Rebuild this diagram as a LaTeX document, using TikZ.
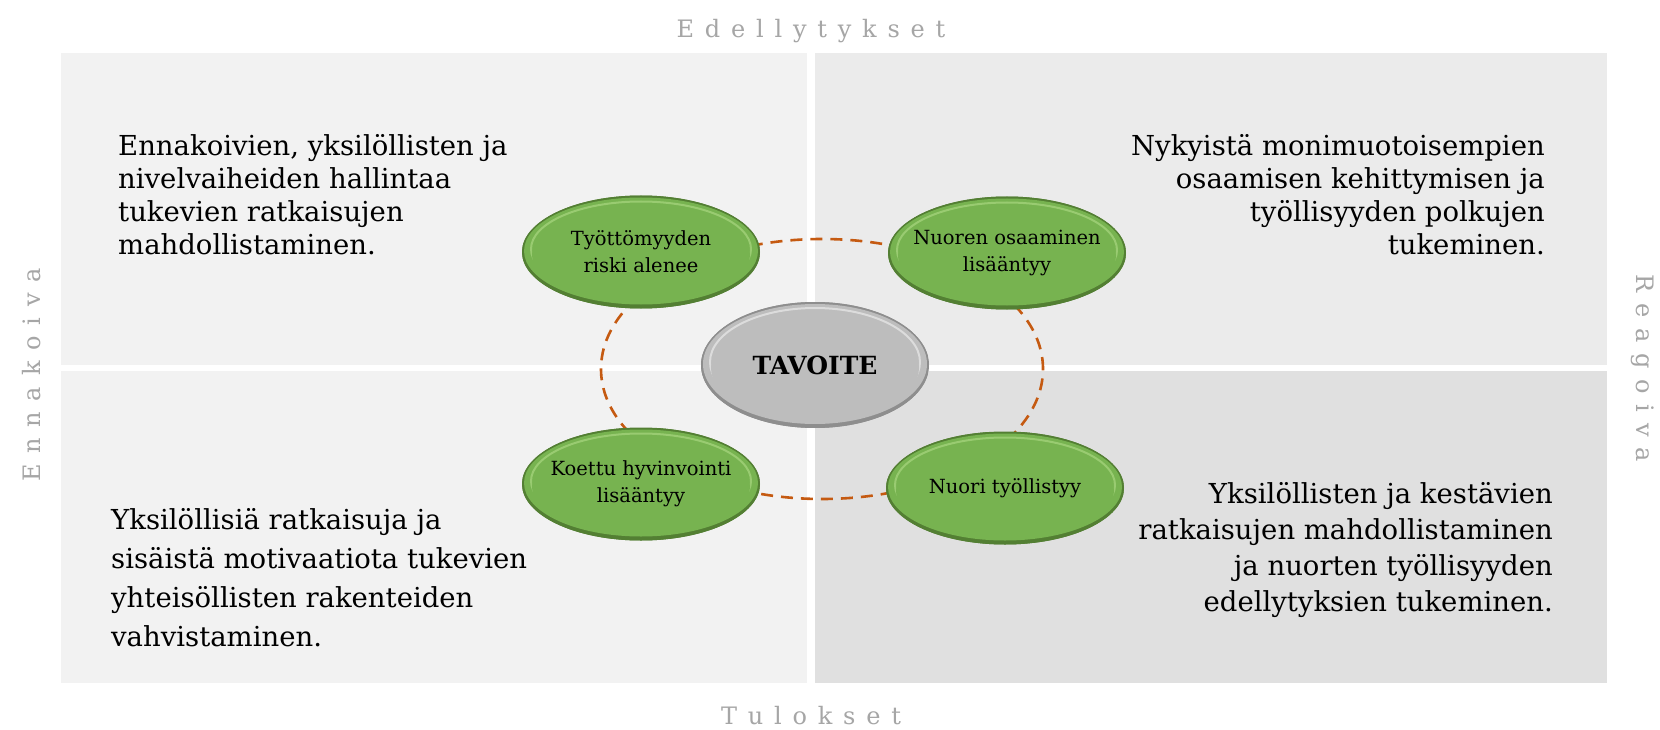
\documentclass[tikz,border=0pt]{standalone}
\usepackage{fontspec}
\setmainfont{DejaVu Serif}
\usetikzlibrary{shapes.geometric,calc,positioning}

\definecolor{leafmid}{HTML}{77B350}
\definecolor{leaflight}{HTML}{A2D27A}
\definecolor{leafdark}{HTML}{537F33}
\definecolor{stonemid}{HTML}{BDBDBD}
\definecolor{stonelight}{HTML}{E4E4E4}
\definecolor{stonedark}{HTML}{8E8E8E}
\definecolor{cyclecolor}{HTML}{C55A11}
\definecolor{axiscolor}{HTML}{A6A6A6}

% bevelled fill for the ellipses: rx, ry, dark, mid, light
\newcommand\bevel[5]{%
  \fill[#3] (path picture bounding box.south west) rectangle (path picture bounding box.north east);
  \fill[#4] ($(path picture bounding box.center)+(0pt,1pt)$) ellipse [x radius=#1pt-2pt, y radius=#2pt-3pt];
  \draw[#5, line width=2pt, opacity=.8] ($(path picture bounding box.center)+(0pt,3pt)$) ellipse [x radius=#1pt-9pt, y radius=#2pt-9pt];
  \fill[#4] ($(path picture bounding box.center)+(0pt,-3pt)$) ellipse [x radius=#1pt-10pt, y radius=#2pt-10pt];
}

\tikzset{
  goal/.style={ellipse, fill=leafdark, minimum width=238pt, minimum height=113pt, inner sep=0pt,
    path picture={\bevel{119}{56.5}{leafdark}{leafmid}{leaflight}}},
  goal text/.style={align=center, font=\fontsize{19.5}{27}\selectfont},
  hub/.style={ellipse, fill=stonedark, minimum width=228pt, minimum height=126pt, inner sep=0pt,
    font=\fontsize{25}{30}\selectfont\bfseries,
    path picture={\bevel{114}{63}{stonedark}{stonemid}{stonelight}}},
  body/.style={inner sep=0pt, font=\fontsize{27.5}{33}\selectfont},
  axis label/.style={inner sep=0pt, text=axiscolor, anchor=base,
    font=\fontsize{24}{24}\selectfont\addfontfeatures{LetterSpace=45}},
  cycle line/.style={cyclecolor, line width=2.6pt, dash pattern=on 12pt off 8pt},
}

\begin{document}
\begin{tikzpicture}[x=1pt,y=-1pt]
  \useasboundingbox[fill=white] (0,0) rectangle (1660,730);

  % Quadrants
  \fill[black!5]  (61,53)  rectangle (807,365);
  \fill[black!8]  (815,53) rectangle (1607,365);
  \fill[black!5]  (61,371) rectangle (807,683);
  \fill[black!12] (815,371) rectangle (1607,683);

  % Axis labels
  \node[axis label] (prereq) at (811,38) {Edellytykset};
  \node[axis label] (results) at (811,724) {Tulokset};
  \node[axis label, rotate=90] (proactive) at (40,375) {Ennakoiva};
  \node[axis label, rotate=-90] (reactive) at (1636,368) {Reagoiva};

  % Quadrant texts
  \node[body, anchor=north west, align=left] (tl text) at (118,134)
    {Ennakoivien, yksilöllisten ja\\nivelvaiheiden hallintaa\\tukevien ratkaisujen\\mahdollistaminen.};
  \node[body, anchor=north east, align=right] (tr text) at (1545,134)
    {Nykyistä monimuotoisempien\\osaamisen kehittymisen ja\\työllisyyden polkujen\\tukeminen.};
  \node[body, anchor=north west, align=left, font=\fontsize{27.5}{39}\selectfont] (bl text) at (111,508)
    {Yksilöllisiä ratkaisuja ja\\sisäistä motivaatiota tukevien\\yhteisöllisten rakenteiden\\vahvistaminen.};
  \node[body, anchor=north east, align=right, font=\fontsize{27.5}{36}\selectfont] (br text) at (1553,482)
    {Yksilöllisten ja kestävien\\ratkaisujen mahdollistaminen\\ja nuorten työllisyyden\\edellytyksien tukeminen.};

  % Cycle
  \coordinate (cycle centre) at (822,369);
  \draw[cycle line] (cycle centre) ellipse [x radius=221pt, y radius=130pt];

  \node[goal, label={[goal text]center:Työttömyyden\\riski alenee}] (risk) at (641,252) {};
  \node[goal, label={[goal text]center:Nuoren osaaminen\\lisääntyy}] (skills) at (1007,253) {};
  \node[goal, label={[goal text]center:Koettu hyvinvointi\\lisääntyy}] (wellbeing) at (641,484) {};
  \node[goal, label={[goal text]center:Nuori työllistyy}] (employed) at (1005,488) {};

  \node[hub] (aim) at (815,365) {TAVOITE};
\end{tikzpicture}
\end{document}
